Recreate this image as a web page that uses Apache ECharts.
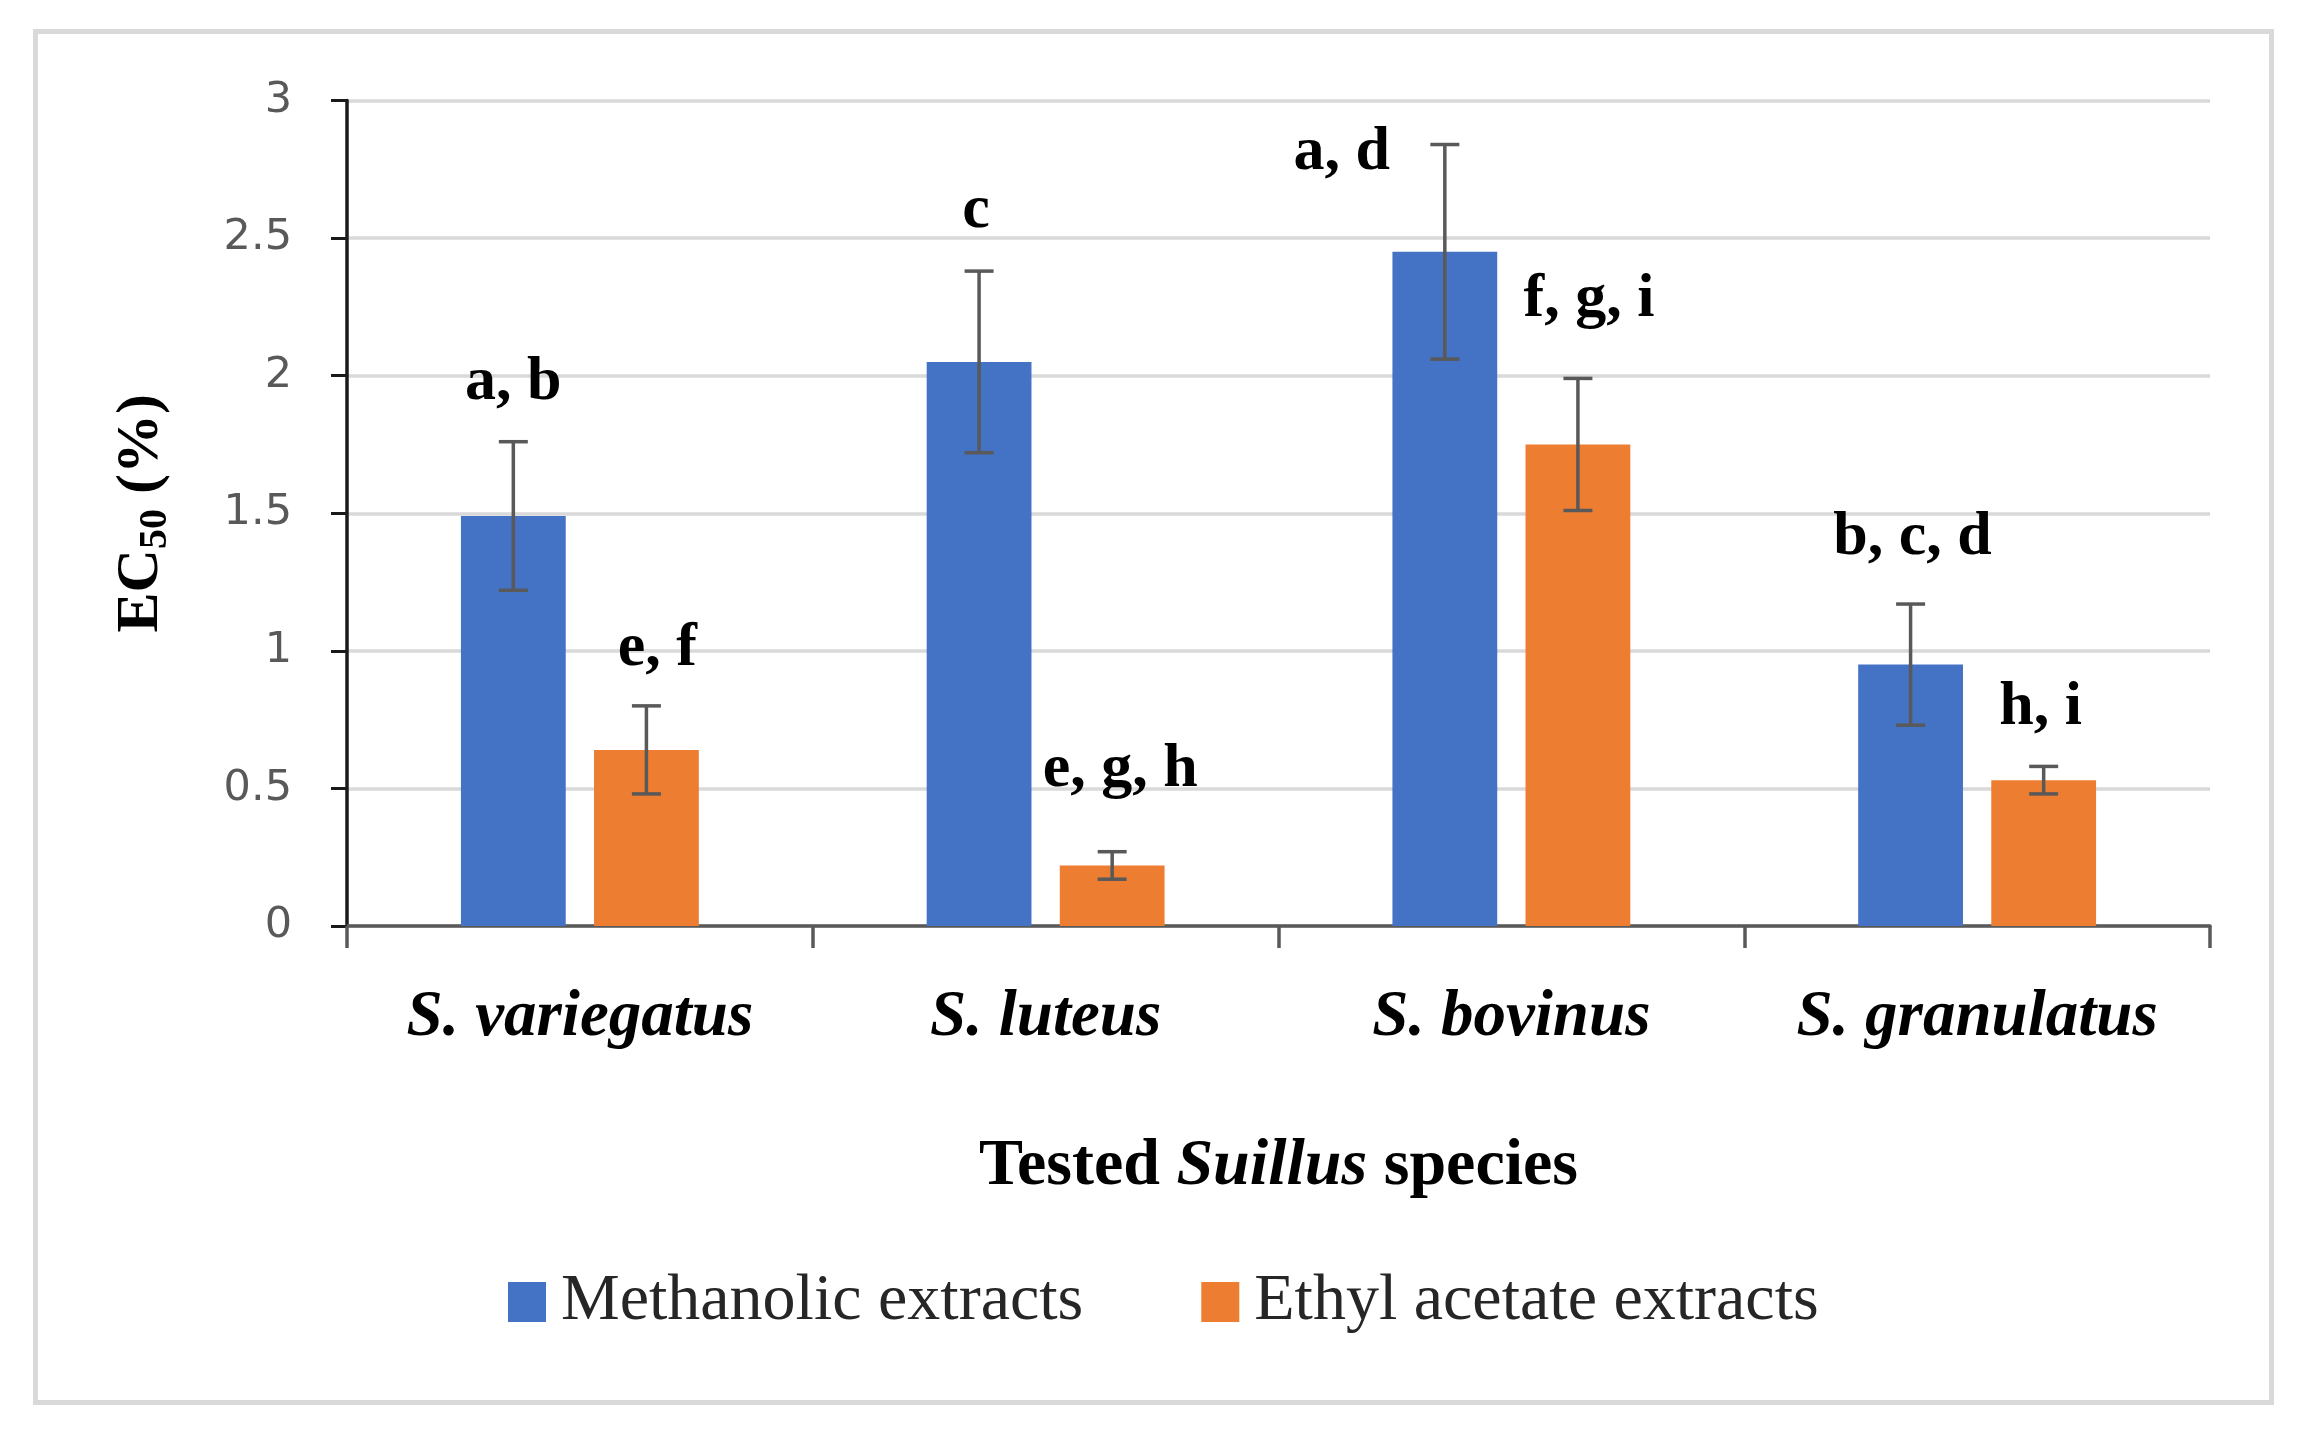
<!DOCTYPE html>
<html>
<head>
<meta charset="utf-8">
<script src="https://cdn.jsdelivr.net/npm/echarts@6/dist/echarts.min.js"></script>
<style>
html,body{margin:0;padding:0;background:#fff;}
#chart{width:2306px;height:1434px;}
</style>
</head>
<body>
<div id="chart"></div>
<script>
// ---- data ----
var categories = ['S. variegatus', 'S. luteus', 'S. bovinus', 'S. granulatus'];
var seriesNames = ['Methanolic extracts', 'Ethyl acetate extracts'];
var methValues = [1.49, 2.05, 2.45, 0.95];
var methErrors = [0.27, 0.33, 0.39, 0.22];
var ethValues = [0.64, 0.22, 1.75, 0.53];
var ethErrors = [0.16, 0.05, 0.24, 0.05];
var methLetters = ['a, b', 'c', 'a, d', 'b, c, d'];
var ethLetters = ['e, f', 'e, g, h', 'f, g, i', 'h, i'];
var yTicks = [0, 0.5, 1, 1.5, 2, 2.5, 3];

// ---- styling / layout (pixels, not data) ----
var BAR_W = 0.225, BAR_GAP = 0.27;
var letterOffsets = [
  [[0, 41], [-3, 42], [-103, -26], [2, 48]],
  [[11, 39], [8, 64], [11, 60], [-3, 40]]
];
var serif = 'Liberation Serif';
var colors = ['#4472C4', '#ED7D31'];

function barCenterOffset(api, s) {
  var band = api.size([1, 0])[0];
  var w = band * BAR_W;
  var g = w * BAR_GAP;
  return (s === 0 ? -1 : 1) * (w + g) / 2;
}

function makeErrSeries(s, vals, errs, letters) {
  return {
    type: 'custom',
    name: seriesNames[s] + ' err',
    z: 5,
    silent: true,
    data: vals.map(function (v, i) { return [i, v, errs[i]]; }),
    renderItem: function (params, api) {
      var i = api.value(0), v = api.value(1), e = api.value(2);
      var off = barCenterOffset(api, s);
      var top = api.coord([i, v + e]);
      var bot = api.coord([i, v - e]);
      var x = top[0] + off;
      var cap = 14.5;
      var ls = {stroke: '#595959', lineWidth: 3.5};
      var o = letterOffsets[s][params.dataIndex];
      return {
        type: 'group',
        children: [
          {type: 'line', shape: {x1: x, y1: top[1], x2: x, y2: bot[1]}, style: ls},
          {type: 'line', shape: {x1: x - cap, y1: top[1], x2: x + cap, y2: top[1]}, style: ls},
          {type: 'line', shape: {x1: x - cap, y1: bot[1], x2: x + cap, y2: bot[1]}, style: ls},
          {type: 'text', style: {
            text: letters[params.dataIndex],
            x: x + o[0], y: top[1] - o[1] - 18,
            textAlign: 'center', textVerticalAlign: 'middle',
            fontFamily: serif, fontWeight: 'bold', fontSize: 62, fill: '#000'
          }}
        ]
      };
    }
  };
}

var chart = echarts.init(document.getElementById('chart'), null, {renderer: 'canvas'});
var option = {
  backgroundColor: '#ffffff',
  animation: false,
  color: colors,
  graphic: [{
    type: 'rect', silent: true, z: -10,
    shape: {x: 35.5, y: 31.5, width: 2236, height: 1371},
    style: {fill: 'none', stroke: '#d9d9d9', lineWidth: 5}
  }],
  grid: {left: 347, right: 96, top: 100.5, bottom: 508, containLabel: false},
  legend: {
    data: seriesNames,
    left: 503, top: 1264,
    icon: 'rect', itemWidth: 38, itemHeight: 40, itemGap: 118,
    textStyle: {fontFamily: serif, fontSize: 66, color: '#262626', padding: [0, 0, 0, 10]}
  },
  xAxis: {
    type: 'category',
    data: categories,
    axisLine: {lineStyle: {color: '#595959', width: 3.5}},
    axisTick: {show: true, interval: 0, length: 22, lineStyle: {color: '#595959', width: 3.5}},
    axisLabel: {interval: 0, fontFamily: serif, fontStyle: 'italic', fontWeight: 'bold', fontSize: 65, color: '#000', margin: 60},
    name: '{b|Tested }{i|Suillus}{b| species}',
    nameLocation: 'middle',
    nameGap: 208,
    nameTextStyle: {
      rich: {
        b: {fontFamily: serif, fontWeight: 'bold', fontSize: 66, color: '#000'},
        i: {fontFamily: serif, fontWeight: 'bold', fontStyle: 'italic', fontSize: 66, color: '#000'}
      }
    }
  },
  yAxis: {
    type: 'value',
    min: yTicks[0], max: yTicks[yTicks.length - 1], interval: 0.5,
    axisLine: {show: true, lineStyle: {color: '#1a1a1a', width: 3.5}},
    axisTick: {show: true, length: 16, lineStyle: {color: '#1a1a1a', width: 3}},
    axisLabel: {fontFamily: 'DejaVu Sans', fontSize: 43, color: '#595959', margin: 55},
    splitLine: {lineStyle: {color: '#d9d9d9', width: 3.5}},
    name: '{a|EC}{s|50}{a| (%)}',
    nameLocation: 'middle',
    nameRotate: 90,
    nameGap: 171,
    nameTextStyle: {
      rich: {
        a: {fontFamily: serif, fontWeight: 'bold', fontSize: 60, color: '#000', lineHeight: 70},
        s: {fontFamily: serif, fontWeight: 'bold', fontSize: 40, color: '#000', verticalAlign: 'bottom', lineHeight: 50}
      }
    }
  },
  series: [
    {type: 'bar', name: seriesNames[0], data: methValues, barWidth: (BAR_W * 100) + '%', barGap: (BAR_GAP * 100) + '%', itemStyle: {color: colors[0]}},
    {type: 'bar', name: seriesNames[1], data: ethValues, barWidth: (BAR_W * 100) + '%', barGap: (BAR_GAP * 100) + '%', itemStyle: {color: colors[1]}},
    makeErrSeries(0, methValues, methErrors, methLetters),
    makeErrSeries(1, ethValues, ethErrors, ethLetters)
  ]
};
chart.setOption(option);
</script>
</body>
</html>
